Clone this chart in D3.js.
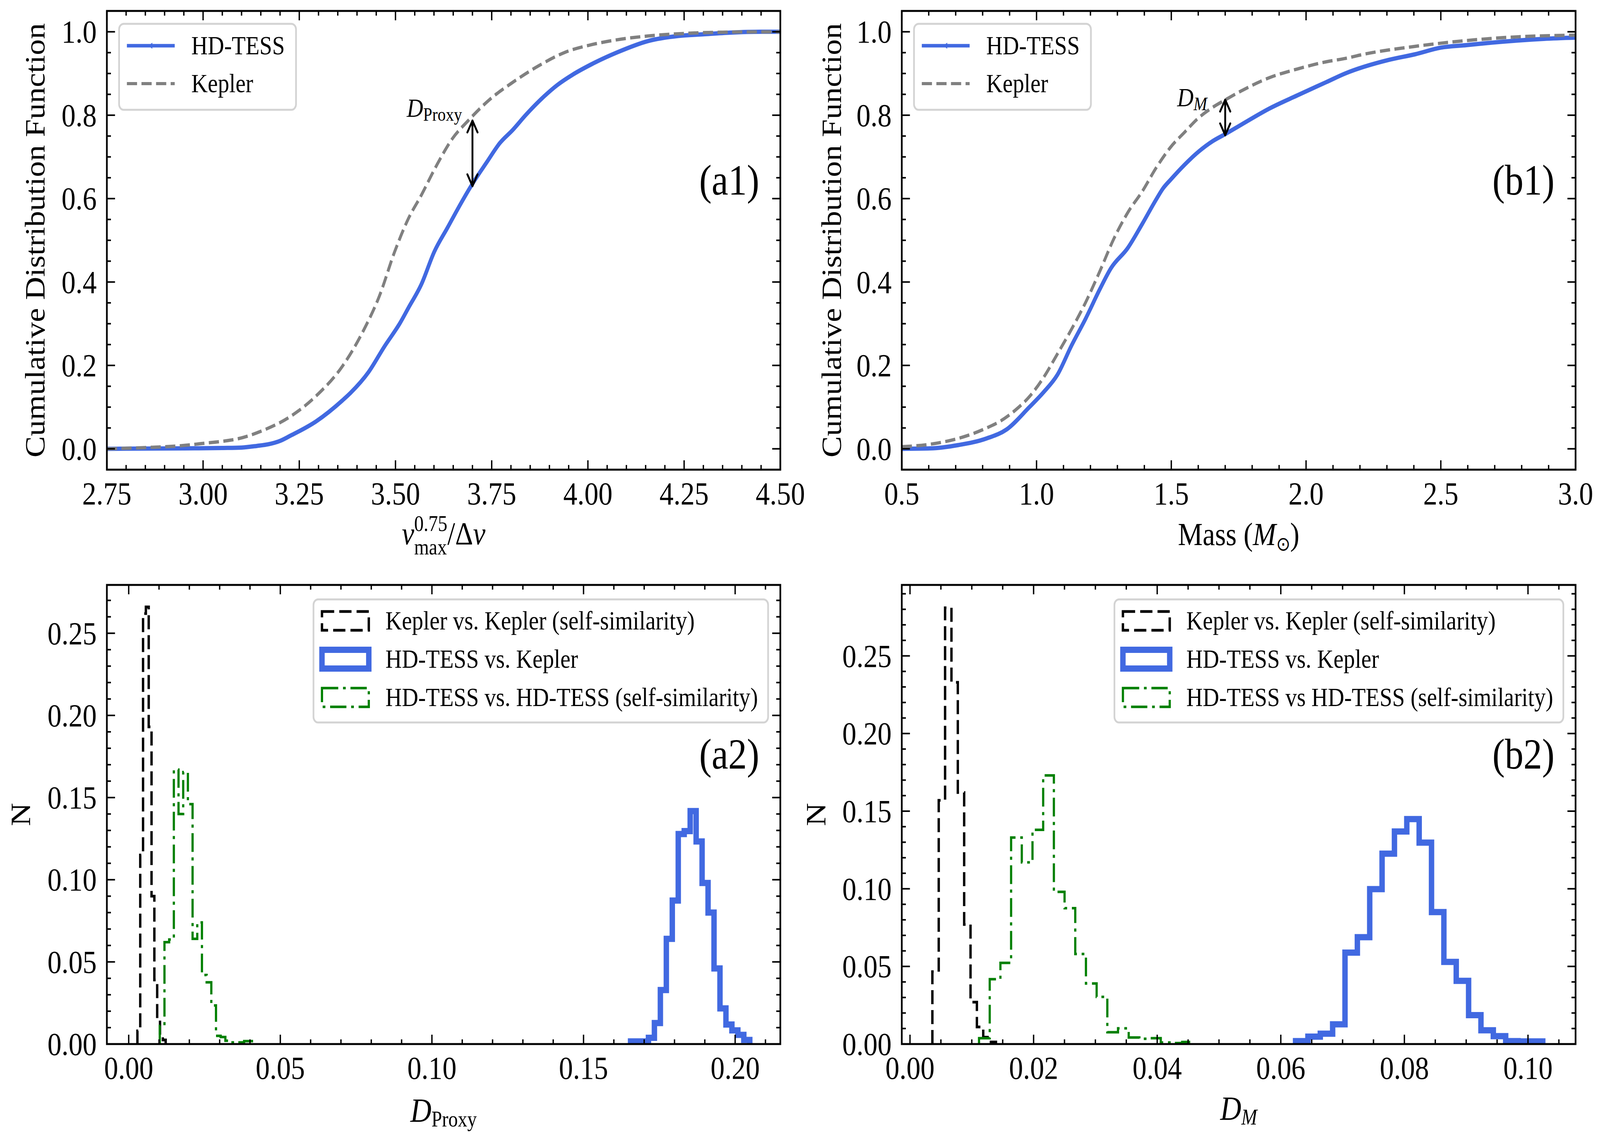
<!DOCTYPE html>
<html>
<head>
<meta charset="utf-8">
<title>HD-TESS vs Kepler CDF</title>
<style>
html, body { margin: 0; padding: 0; background: #fff; overflow: hidden; }
svg { display: block; width: 100vw; height: 100vh; font-family: 'Liberation Serif', 'Times New Roman', serif; }
</style>
</head>
<body>
<svg id="fig" viewBox="0 0 4716 2915" preserveAspectRatio="none"></svg>
<script src="https://d3js.org/d3.v7.min.js"></script>
<script>
// ---------- values ----------
// (a1) CDF of numax^0.75/dnu
const proxyTess = [[2.75,0],[2.85,0.0005],[2.95,0.001],[3.05,0.002],[3.10,0.003],[3.14,0.007],[3.17,0.011],
  [3.20,0.019],[3.226,0.031],[3.294,0.066],[3.362,0.116],[3.383,0.134],[3.43,0.184],[3.471,0.245],[3.512,0.302],
  [3.533,0.337],[3.567,0.394],[3.601,0.473],[3.635,0.53],[3.669,0.587],[3.703,0.64],[3.737,0.687],[3.771,0.733],
  [3.805,0.765],[3.839,0.801],[3.886,0.845],[3.92,0.872],[3.96,0.897],[4.009,0.922],[4.077,0.951],[4.157,0.978],
  [4.235,0.99],[4.30,0.994],[4.37,0.998],[4.45,1.0],[4.50,1.0]];
const proxyKepler = [[2.75,0],[2.85,0.003],[2.95,0.008],[3.00,0.013],[3.05,0.018],[3.09,0.024],[3.158,0.045],
  [3.226,0.077],[3.294,0.127],[3.362,0.198],[3.417,0.284],[3.458,0.366],[3.498,0.473],[3.533,0.551],[3.567,0.608],
  [3.607,0.68],[3.648,0.744],[3.689,0.787],[3.744,0.837],[3.805,0.879],[3.873,0.919],[3.941,0.951],[4.009,0.969],
  [4.077,0.981],[4.157,0.99],[4.25,0.996],[4.35,0.999],[4.50,1.0]];
// (b1) CDF of mass
const massTess = [[0.5,0.0],[0.605,0.001],[0.71,0.009],[0.815,0.025],[0.888,0.046],[0.972,0.099],[1.025,0.135],
  [1.077,0.177],[1.13,0.248],[1.182,0.312],[1.235,0.383],[1.276,0.433],[1.339,0.482],[1.392,0.539],[1.444,0.598],
  [1.47,0.625],[1.497,0.645],[1.549,0.681],[1.602,0.713],[1.654,0.738],[1.701,0.755],[1.759,0.777],[1.864,0.816],
  [1.969,0.848],[2.074,0.879],[2.145,0.90],[2.309,0.933],[2.404,0.946],[2.5,0.962],[2.595,0.968],[2.69,0.974],
  [2.882,0.983],[3.0,0.986]];
const massKepler = [[0.5,0.005],[0.605,0.011],[0.71,0.025],[0.815,0.05],[0.867,0.067],[0.92,0.092],[0.972,0.124],
  [1.025,0.17],[1.077,0.227],[1.13,0.287],[1.182,0.351],[1.235,0.426],[1.287,0.504],[1.339,0.567],[1.392,0.617],
  [1.444,0.674],[1.497,0.723],[1.549,0.759],[1.602,0.794],[1.654,0.819],[1.701,0.837],[1.759,0.858],[1.864,0.89],
  [1.969,0.911],[2.074,0.928],[2.145,0.936],[2.213,0.946],[2.404,0.965],[2.595,0.979],[2.786,0.988],[3.0,0.992]];

// KS distance markers: [x, y on Kepler, y on HD-TESS]
const proxyArrow = [3.70, 0.787, 0.630];
const massArrow = [1.70, 0.837, 0.752];

// histograms: [first bin edge, bin width] and normalised heights
const dProxyKepKepBins = [0.00287, 0.000932];
const dProxyKepKep = [0.008, 0.115, 0.262, 0.266, 0.193, 0.090, 0.039, 0.015, 0.005, 0.0025];
const dProxyTessKepBins = [0.16551, 0.001966];
const dProxyTessKep = [0.0016, 0.0016, 0.0016, 0.0038, 0.0128, 0.0329, 0.064, 0.0873, 0.1278, 0.1296,
  0.1418, 0.1233, 0.098, 0.080, 0.046, 0.0217, 0.0119, 0.0083, 0.0056, 0.0025];
const dProxyTessTessBins = [0.01025, 0.001545];
const dProxyTessTess = [0.011, 0.062, 0.0636, 0.167, 0.140, 0.1655, 0.146, 0.064, 0.074, 0.042,
  0.0376, 0.0235, 0.005, 0.0043, 0.002, 0.001, 0.0007, 0.001, 0.0018, 0.0018];

const dMassKepKepBins = [0.00362, 0.001029];
const dMassKepKep = [0.0466, 0.157, 0.281, 0.233, 0.162, 0.077, 0.027, 0.011, 0.0044, 0.0013];
const dMassTessKepBins = [0.06239, 0.002];
const dMassTessKep = [0.0019, 0.0048, 0.0067, 0.0127, 0.0589, 0.0688, 0.0998, 0.1226, 0.1369, 0.1449,
  0.1297, 0.085, 0.0529, 0.0407, 0.0186, 0.0089, 0.0051, 0.0019, 0.0017, 0.0017];
const dMassTessTessBins = [0.01117, 0.00173];
const dMassTessTess = [0.0038, 0.0418, 0.0523, 0.133, 0.117, 0.138, 0.173, 0.098, 0.0875, 0.058,
  0.039, 0.0304, 0.0076, 0.0101, 0.0042, 0.0034, 0.0038, 0.001, 0.0006, 0.0013];

const cdfLegend = ["HD-TESS", "Kepler"];
const proxyHistLegend = ["Kepler vs. Kepler (self-similarity)", "HD-TESS vs. Kepler", "HD-TESS vs. HD-TESS (self-similarity)"];
const massHistLegend = ["Kepler vs. Kepler (self-similarity)", "HD-TESS vs. Kepler", "HD-TESS vs HD-TESS (self-similarity)"];

// ---------- styles ----------
const BLUE = "#4169e1", GRAY = "#808080", GREEN = "#008000";
const TICK_FS = 83, LABEL_FS = 82, LEG_FS = 67, PANEL_FS = 110;

const svg = d3.select("#fig");
svg.append("rect").attr("width", 4716).attr("height", 2915).attr("fill", "#fff");

// axes boxes in pixels
const box = {
  a1: {l: 315, r: 2300, t: 28, b: 1202},
  b1: {l: 2658, r: 4644, t: 28, b: 1202},
  a2: {l: 315, r: 2300, t: 1497, b: 2672},
  b2: {l: 2658, r: 4644, t: 1497, b: 2672}
};

function tickValues(lo, hi, step) {
  const out = [];
  const k0 = Math.ceil(lo / step - 1e-9), k1 = Math.floor(hi / step + 1e-9);
  for (let k = k0; k <= k1; k++) out.push(+(k * step).toFixed(6));
  return out;
}
function isMajor(v, step) { return Math.abs(v / step - Math.round(v / step)) < 1e-6; }

// draw frame, inward ticks on all four sides and tick labels
function drawAxes(g, bx, x, y, xt, yt) {
  const tk = g.append("g").attr("stroke", "#000").attr("stroke-width", 4);
  tickValues(x.domain()[0], x.domain()[1], xt.minor).forEach(v => {
    const L = isMajor(v, xt.major) ? 24 : 12, px = x(v);
    tk.append("line").attr("x1", px).attr("x2", px).attr("y1", bx.b).attr("y2", bx.b - L);
    tk.append("line").attr("x1", px).attr("x2", px).attr("y1", bx.t).attr("y2", bx.t + L);
  });
  tickValues(y.domain()[0], y.domain()[1], yt.minor).forEach(v => {
    const L = isMajor(v, yt.major) ? 24 : 12, py = y(v);
    tk.append("line").attr("y1", py).attr("y2", py).attr("x1", bx.l).attr("x2", bx.l + L);
    tk.append("line").attr("y1", py).attr("y2", py).attr("x1", bx.r).attr("x2", bx.r - L);
  });
  g.append("g").selectAll("text")
    .data(tickValues(x.domain()[0], x.domain()[1], xt.major))
    .join("text")
      .attr("x", d => x(d)).attr("y", bx.b + 89)
      .attr("text-anchor", "middle").attr("font-size", TICK_FS)
      .text(d => d3.format(xt.fmt)(d));
  g.append("g").selectAll("text")
    .data(tickValues(y.domain()[0], y.domain()[1], yt.major))
    .join("text")
      .attr("x", bx.l - 30).attr("y", d => y(d) + 28)
      .attr("text-anchor", "end").attr("font-size", TICK_FS)
      .text(d => d3.format(yt.fmt)(d));
  g.append("rect")
    .attr("x", bx.l).attr("y", bx.t).attr("width", bx.r - bx.l).attr("height", bx.b - bx.t)
    .attr("fill", "none").attr("stroke", "#000").attr("stroke-width", 5);
}

// text made of pieces (italic, sub/superscripts); stacked pieces share one x
function mathText(g, pieces, cx, base, anchor) {
  const grp = g.append("g");
  let cursor = 0, stackW = 0;
  pieces.forEach(p => {
    const t = grp.append("text")
      .attr("x", cursor).attr("y", base + (p.dy || 0))
      .attr("font-size", p.fs || LABEL_FS)
      .attr("font-style", p.it ? "italic" : "normal")
      .text(p.t);
    const w = t.node().getComputedTextLength();
    if (p.stack) { stackW = Math.max(stackW, w); if (p.last) { cursor += stackW; stackW = 0; } }
    else cursor += w + (p.gap || 0);
  });
  const shift = anchor === "end" ? cx - cursor : cx - cursor / 2;
  grp.attr("transform", `translate(${shift},0)`);
  return grp;
}

function yLabel(g, txt, xBase, cy) {
  g.append("text")
    .attr("transform", `translate(${xBase},${cy}) rotate(-90)`)
    .attr("text-anchor", "middle").attr("font-size", LABEL_FS)
    .text(txt);
}

function panelTag(g, bx, txt) {
  g.append("text")
    .attr("x", bx.r - 62).attr("y", bx.b - 0.6 * (bx.b - bx.t))
    .attr("text-anchor", "end").attr("font-size", PANEL_FS)
    .text(txt);
}

function ksArrow(g, x, y, a) {
  const px = x(a[0]), y1 = y(a[1]), y2 = y(a[2]);
  const ar = g.append("g").attr("stroke", "#000").attr("stroke-width", 5.5)
    .attr("fill", "none").attr("stroke-linecap", "round").attr("stroke-linejoin", "round");
  ar.append("line").attr("x1", px).attr("x2", px).attr("y1", y1).attr("y2", y2);
  ar.append("path").attr("d", `M${px - 15},${y1 + 30}L${px},${y1}L${px + 15},${y1 + 30}`);
  ar.append("path").attr("d", `M${px - 15},${y2 - 30}L${px},${y2}L${px + 15},${y2 - 30}`);
}

function cdfLegendBox(g, bx) {
  const lx = bx.l + 36, ly = bx.t + 33;
  const lg = g.append("g");
  const frame = lg.append("rect").attr("x", lx).attr("y", ly).attr("height", 220)
    .attr("rx", 14).attr("fill", "#fff").attr("fill-opacity", 0.8)
    .attr("stroke", "#d3d3d3").attr("stroke-width", 5);
  let maxW = 0;
  cdfLegend.forEach((name, i) => {
    const cy = ly + 56 + i * 97;
    const ln = lg.append("line").attr("x1", lx + 23).attr("x2", lx + 164).attr("y1", cy).attr("y2", cy);
    if (i === 0) {
      ln.attr("stroke", BLUE).attr("stroke-width", 9);
      lg.append("path").attr("d", `M${lx + 89},${cy}l8,-6v12z`).attr("fill", BLUE)
        .attr("stroke", BLUE).attr("stroke-width", 2);
    } else {
      ln.attr("stroke", GRAY).attr("stroke-width", 8).attr("stroke-dasharray", "30,13");
    }
    const t = lg.append("text").attr("x", lx + 213).attr("y", cy + 22).attr("font-size", LEG_FS).text(name);
    maxW = Math.max(maxW, t.node().getComputedTextLength());
  });
  frame.attr("width", 213 + maxW + 33);
}

const histStyles = [
  {color: "#000", w: 7, dash: "36,15"},
  {color: BLUE, w: 16, dash: null},
  {color: GREEN, w: 6.5, dash: "48,14,8,14"}
];

function histLegendBox(g, bx, labels) {
  const lg = g.append("g");
  const ly = bx.t + 37;
  const frame = lg.append("rect").attr("y", ly).attr("height", 315)
    .attr("rx", 14).attr("fill", "#fff").attr("fill-opacity", 0.8)
    .attr("stroke", "#d3d3d3").attr("stroke-width", 5);
  const texts = labels.map((name, i) =>
    lg.append("text").attr("y", ly + 55 + i * 98 + 22).attr("font-size", LEG_FS).text(name));
  const maxW = d3.max(texts, t => t.node().getComputedTextLength());
  const w = 212 + maxW + 30, lx = bx.r - 36 - w;
  frame.attr("x", lx).attr("width", w);
  texts.forEach(t => t.attr("x", lx + 212));
  histStyles.forEach((st, i) => {
    const cy = ly + 55 + i * 98;
    lg.append("rect").attr("x", lx + 25).attr("y", cy - 24).attr("width", 138).attr("height", 48)
      .attr("fill", "none").attr("stroke", st.color).attr("stroke-width", st.w)
      .attr("stroke-dasharray", st.dash);
  });
}

function stepHist(g, x, y, bins, h, st) {
  const [start, width] = bins;
  const pts = [[start, 0]];
  h.forEach((v, i) => pts.push([start + i * width, v]));
  pts.push([start + h.length * width, 0]);
  const line = d3.line().x(d => x(d[0])).y(d => y(d[1])).curve(d3.curveStepAfter);
  g.append("path").attr("d", line(pts)).attr("fill", "none")
    .attr("stroke", st.color).attr("stroke-width", st.w)
    .attr("stroke-dasharray", st.dash).attr("stroke-linejoin", "miter");
}

function cdfLines(g, x, y, tess, kep) {
  const line = d3.line().x(d => x(d[0])).y(d => y(d[1])).curve(d3.curveMonotoneX);
  g.append("path").attr("d", line(tess)).attr("fill", "none")
    .attr("stroke", BLUE).attr("stroke-width", 11).attr("stroke-linejoin", "round");
  g.append("path").attr("d", line(kep)).attr("fill", "none")
    .attr("stroke", GRAY).attr("stroke-width", 8.5).attr("stroke-dasharray", "30,13");
}

// ---------- (a1) ----------
{
  const bx = box.a1, g = svg.append("g");
  const x = d3.scaleLinear().domain([2.75, 4.5]).range([bx.l, bx.r]);
  const y = d3.scaleLinear().domain([-0.05, 1.05]).range([bx.b, bx.t]);
  cdfLines(g, x, y, proxyTess, proxyKepler);
  ksArrow(g, x, y, proxyArrow);
  mathText(g, [{t: "D", it: true, fs: 67}, {t: "Proxy", fs: 48, dy: 10}], x(3.673), y(0.796), "end");
  drawAxes(g, bx, x, y, {major: 0.25, minor: 0.05, fmt: ".2f"}, {major: 0.2, minor: 0.05, fmt: ".1f"});
  cdfLegendBox(g, bx);
  panelTag(g, bx, "(a1)");
  yLabel(g, "Cumulative Distribution Function", bx.l - 184, (bx.t + bx.b) / 2);
  mathText(g, [
    {t: "ν", it: true},
    {t: "0.75", fs: 56, dy: -34, stack: true},
    {t: "max", fs: 56, dy: 26, stack: true, last: true},
    {t: "/Δ"},
    {t: "ν", it: true}
  ], (bx.l + bx.r) / 2, 1393);
}

// ---------- (b1) ----------
{
  const bx = box.b1, g = svg.append("g");
  const x = d3.scaleLinear().domain([0.5, 3.0]).range([bx.l, bx.r]);
  const y = d3.scaleLinear().domain([-0.05, 1.05]).range([bx.b, bx.t]);
  cdfLines(g, x, y, massTess, massKepler);
  ksArrow(g, x, y, massArrow);
  mathText(g, [{t: "D", it: true, fs: 67}, {t: "M", it: true, fs: 48, dy: 10}], x(1.633), y(0.821), "end");
  drawAxes(g, bx, x, y, {major: 0.5, minor: 0.1, fmt: ".1f"}, {major: 0.2, minor: 0.05, fmt: ".1f"});
  cdfLegendBox(g, bx);
  panelTag(g, bx, "(b1)");
  yLabel(g, "Cumulative Distribution Function", bx.l - 179, (bx.t + bx.b) / 2);
  mathText(g, [
    {t: "Mass ("},
    {t: "M", it: true},
    {t: "⊙", fs: 50, dy: 14},
    {t: ")"}
  ], (bx.l + bx.r) / 2, 1395);
}

// ---------- (a2) ----------
{
  const bx = box.a2, g = svg.append("g");
  const x = d3.scaleLinear().domain([-0.0072, 0.2149]).range([bx.l, bx.r]);
  const y = d3.scaleLinear().domain([0, 0.2794]).range([bx.b, bx.t]);
  stepHist(g, x, y, dProxyKepKepBins, dProxyKepKep, histStyles[0]);
  stepHist(g, x, y, dProxyTessKepBins, dProxyTessKep, histStyles[1]);
  stepHist(g, x, y, dProxyTessTessBins, dProxyTessTess, histStyles[2]);
  drawAxes(g, bx, x, y, {major: 0.05, minor: 0.01, fmt: ".2f"}, {major: 0.05, minor: 0.01, fmt: ".2f"});
  histLegendBox(g, bx, proxyHistLegend);
  panelTag(g, bx, "(a2)");
  yLabel(g, "N", bx.l - 226, (bx.t + bx.b) / 2);
  mathText(g, [{t: "D", it: true, fs: 86}, {t: "Proxy", fs: 56, dy: 12}], (bx.l + bx.r) / 2, 2871);
}

// ---------- (b2) ----------
{
  const bx = box.b2, g = svg.append("g");
  const x = d3.scaleLinear().domain([-0.00133, 0.1077]).range([bx.l, bx.r]);
  const y = d3.scaleLinear().domain([0, 0.2957]).range([bx.b, bx.t]);
  stepHist(g, x, y, dMassKepKepBins, dMassKepKep, histStyles[0]);
  stepHist(g, x, y, dMassTessKepBins, dMassTessKep, histStyles[1]);
  stepHist(g, x, y, dMassTessTessBins, dMassTessTess, histStyles[2]);
  drawAxes(g, bx, x, y, {major: 0.02, minor: 0.005, fmt: ".2f"}, {major: 0.05, minor: 0.01, fmt: ".2f"});
  histLegendBox(g, bx, massHistLegend);
  panelTag(g, bx, "(b2)");
  yLabel(g, "N", bx.l - 225, (bx.t + bx.b) / 2);
  mathText(g, [{t: "D", it: true, fs: 86}, {t: "M", it: true, fs: 56, dy: 12}], (bx.l + bx.r) / 2, 2866);
}
</script>
</body>
</html>
